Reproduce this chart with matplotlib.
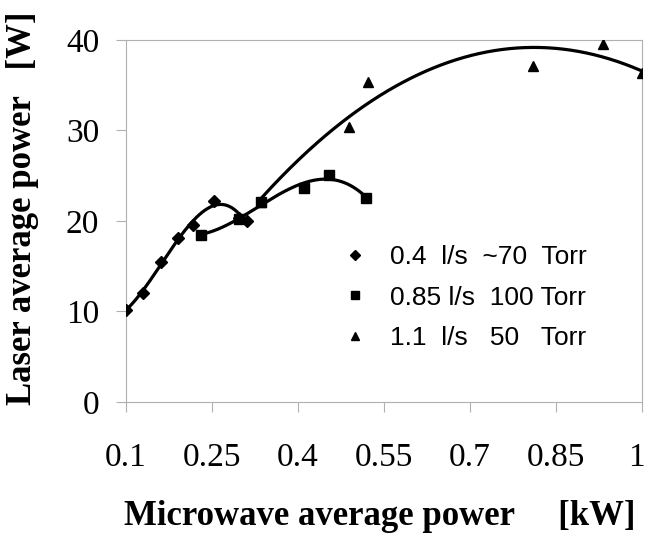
import numpy as np
import matplotlib
matplotlib.use("Agg")
import matplotlib.pyplot as plt
from matplotlib.transforms import ScaledTranslation

# data (kW, W)
x_diamond = [0.10, 0.13, 0.162, 0.192, 0.218, 0.255, 0.297, 0.311]
y_diamond = [10.2, 12.0, 15.5, 18.1, 19.6, 22.2, 20.3, 20.0]

x_square = [0.231, 0.298, 0.337, 0.411, 0.455, 0.52]
y_square = [18.5, 20.2, 22.1, 23.6, 25.1, 22.5]

x_triangle = [0.337, 0.49, 0.522, 0.811, 0.933, 1.0]
y_triangle = [22.1, 30.4, 35.4, 37.1, 39.6, 36.3]

labels = ["0.4  l/s  ~70  Torr", "0.85 l/s  100 Torr", "1.1  l/s   50   Torr"]
x_ticks = [0.1, 0.25, 0.4, 0.55, 0.7, 0.85, 1.0]
x_ticklabels = ["0.1", "0.25", "0.4", "0.55", "0.7", "0.85", "1"]
y_ticks = [0, 10, 20, 30, 40]

fig = plt.figure(figsize=(6.47, 5.36), dpi=100)
ax = fig.add_axes([0.194, 0.25, 0.798, 0.6754])

series = [
    (x_diamond, y_diamond, "D", 6, 3),
    (x_square, y_square, "s", 7, 3),
    (x_triangle, y_triangle, "^", 7.5, 2),
]

handles = []
for (xs, ys, m, ms, deg), lab in zip(series, labels):
    xs = np.array(xs)
    ys = np.array(ys)
    # polynomial trendline like the spreadsheet fit
    coef = np.polyfit(xs, ys, deg)
    xf = np.linspace(xs.min(), xs.max(), 200)
    ax.plot(xf, np.polyval(coef, xf), color="black", lw=2.3, zorder=2)
    h, = ax.plot(xs, ys, linestyle="none", marker=m, ms=ms, color="black",
                 zorder=3, label=lab)
    handles.append(h)

ax.set_xlim(0.1, 1.0)
ax.set_ylim(0, 40)
ax.set_xticks(x_ticks)
ax.set_xticklabels(x_ticklabels)
ax.set_yticks(y_ticks)

for s in ax.spines.values():
    s.set_color("#b0b0b0")
    s.set_linewidth(0.8)
ax.tick_params(direction="out", length=7, width=0.8, color="#b0b0b0",
               labelsize=24)
ax.tick_params(axis="x", pad=22)
ax.tick_params(axis="y", pad=12)
for t in ax.get_xticklabels() + ax.get_yticklabels():
    t.set_fontfamily("Liberation Serif")
# the "1" sits right at the figure edge, nudge it in a little
last = ax.get_xticklabels()[-1]
last.set_transform(last.get_transform() + ScaledTranslation(-4 / 72, 0, fig.dpi_scale_trans))

ax.set_xlabel("Microwave average power     [kW]", fontsize=25, fontweight="bold",
              fontfamily="Liberation Serif")
ax.set_ylabel("Laser average power   [W]", fontsize=25, fontweight="bold",
              fontfamily="Liberation Serif")
ax.xaxis.set_label_coords(0.493, -0.315)
ax.xaxis.label.set_va("center")
ax.yaxis.set_label_coords(-0.2, 0.536)
ax.yaxis.label.set_va("center")

leg = ax.legend(handles=handles, loc="upper left",
                bbox_to_anchor=(342 / 647, 1 - 245 / 536),
                bbox_transform=fig.transFigure, borderpad=0, borderaxespad=0,
                frameon=False, prop={"family": "Liberation Sans", "size": 19},
                handlelength=1.0, handletextpad=0.8, labelspacing=0.63,
                markerscale=0.85)

fig.savefig("out.png", dpi=100)
